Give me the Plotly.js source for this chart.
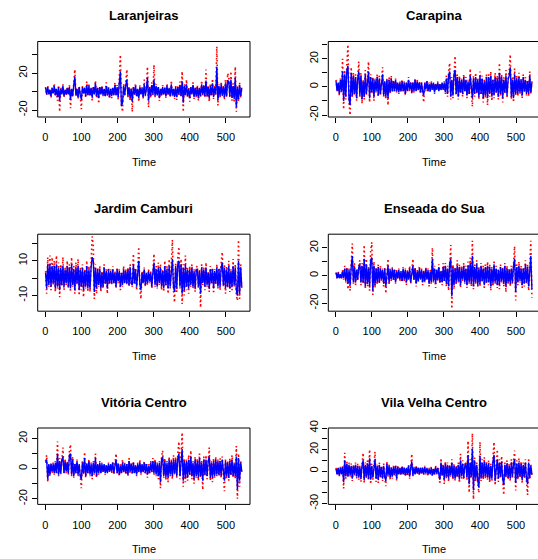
<!DOCTYPE html>
<html><head><meta charset="utf-8">
<script src="https://cdn.plot.ly/plotly-3.0.1.min.js"></script>
<style>html,body{margin:0;padding:0;background:#fff}#chart{width:538px;height:559px}</style>
</head><body><div id="chart"></div>
<script>
// Station names (panel titles)
const stations = ["Laranjeiras", "Carapina", "Jardim Camburi", "Enseada do Sua", "Vitória Centro", "Vila Velha Centro"];
// time index: series sampled every 3rd step starting at t=1
const timeStart = 1, timeStep = 3;
const xTickVals = [0, 100, 200, 300, 400, 500];

const obsLaranjeiras = [
 5,-4,6,-3,2,-7,4,-2,9,-5,3,-10,7,-22,4,-3,8,-6,2,-4,
 5,-4,7,-18,3,-6,9,24,-5,3,-8,6,-3,-19,6,-2,4,-7,11,-5,
 9,-5,4,-10,6,-3,12,-7,4,-13,6,-3,7,-5,3,-6,10,-4,5,-8,
 3,-7,5,-4,10,-5,7,-9,14,40,-14,-22,8,-5,11,24,-6,5,-10,4,
 -22,6,-4,9,-6,3,-11,7,-3,5,-8,13,-5,4,27,-17,6,-7,10,-4,
 29,-6,8,-4,6,-10,3,-5,7,-3,5,-7,9,-3,4,-6,12,-5,3,-8,
 6,-9,7,-4,11,-6,22,-22,8,-5,13,-7,4,-11,6,-3,10,-8,5,-6,
 7,-10,5,-6,12,-4,8,-7,24,-6,6,-11,9,-5,14,-8,6,-3,49,-15,
 8,-6,11,-5,7,-9,13,-6,20,16,-7,22,-10,9,-12,27,-22,6,-11,10,
 -7,5];
const fitLaranjeiras = [
 4,-3,5,-3,2,-5,4,-2,6,-4,3,-6,5,-10,3,-3,6,-5,2,-3,
 4,-3,5,-9,3,-5,7,16,-4,3,-6,5,-3,-9,5,-2,4,-5,7,-4,
 6,-4,4,-6,5,-3,9,-5,4,-7,5,-3,5,-4,3,-5,6,-4,4,-6,
 3,-5,4,-4,7,-4,5,-6,9,22,-16,-12,6,-4,7,13,-5,4,-7,3,
 -11,5,-3,6,-5,3,-7,5,-3,4,-6,8,-4,3,15,-10,5,-5,7,-3,
 13,-5,6,-4,5,-7,3,-4,5,-3,4,-5,6,-3,4,-5,8,-4,3,-6,
 5,-6,5,-3,7,-5,11,-12,6,-4,8,-5,3,-7,5,-3,7,-6,4,-5,
 5,-7,4,-5,8,-3,6,-5,12,-5,5,-7,6,-4,9,-6,5,-3,27,-9,
 6,-5,8,-4,5,-6,9,-5,12,11,-5,13,-7,6,-8,15,-17,5,-8,7,
 -5,4];

const obsCarapina = [
 5,-3,3,-6,6,-4,20,-16,12,-9,17,30,-11,-20,14,-8,10,-6,9,-10,
 7,18,-8,10,-12,5,-9,12,-6,8,18,-11,9,-5,7,-10,6,-4,9,-7,
 8,-6,5,14,-7,4,-9,6,-13,7,-5,8,-4,5,-3,6,-4,3,-5,4,
 -4,5,-3,4,-6,4,-3,7,-3,4,-5,3,-4,6,-3,5,-3,4,-5,3,
 -4,-11,3,-3,5,-3,3,-4,4,-2,3,-5,3,-2,4,-3,2,-3,3,-2,
 4,-5,8,-7,11,17,-9,7,-8,12,22,-6,9,-9,8,-5,6,-7,9,-4,
 7,-8,5,-6,13,-4,-14,8,-7,10,-5,6,-9,11,-6,8,-11,5,-8,9,
 -13,9,-7,11,-10,6,-8,10,-5,8,-9,17,-6,9,-11,7,-5,12,-8,6,
 11,23,-9,7,-11,13,-6,8,-7,10,-5,6,-8,9,-4,7,-6,5,-7,11,
 -5,4];
const fitCarapina = [
 4,-3,3,-5,5,-3,11,-10,9,-7,12,15,-9,-13,10,-6,8,-5,7,-8,
 6,11,-6,8,-9,4,-7,9,-5,6,11,-8,7,-4,6,-7,5,-3,7,-6,
 6,-5,4,9,-6,4,-7,5,-8,5,-4,6,-3,4,-3,5,-3,3,-4,3,
 -3,4,-3,3,-5,3,-3,5,-2,3,-4,3,-3,5,-3,4,-2,3,-4,3,
 -3,-6,3,-2,4,-3,2,-3,3,-2,3,-4,2,-2,3,-3,2,-2,3,-2,
 3,-4,6,-5,8,11,-7,5,-6,9,12,-5,7,-7,6,-4,5,-5,7,-3,
 5,-6,4,-5,8,-3,-8,6,-5,7,-4,5,-7,8,-5,6,-8,4,-6,7,
 -8,7,-5,8,-7,5,-6,7,-4,6,-7,10,-5,7,-8,5,-4,8,-6,5,
 8,14,-7,5,-8,9,-5,6,-5,7,-4,5,-6,7,-3,5,-5,4,-5,8,
 -4,3];

const obsJardimCamburi = [
 4,-9,12,-5,13,-7,12,-4,10,-8,13,-6,9,-11,8,-5,12,-7,6,-4,
 10,-6,8,-8,12,-5,7,-9,9,-4,11,-10,6,-7,8,-11,5,-6,10,-8,
 7,-8,9,24,19,-12,8,-9,6,-5,7,-8,4,-6,8,-4,5,-9,6,-4,
 5,-4,7,-3,4,-6,6,-3,5,-7,3,-5,7,-3,5,-4,6,-5,8,-3,
 -5,14,-4,6,-7,5,18,-6,-12,4,-3,6,-5,3,-4,5,-3,4,-6,3,
 14,-5,7,-6,9,-4,8,-7,5,-8,10,-5,7,-9,11,-6,8,22,-7,-14,
 9,-8,12,18,-6,11,-15,8,-10,13,-7,6,-9,7,-5,8,-6,5,-8,6,
 7,-6,5,-17,8,-4,6,-7,9,-5,4,-8,7,-3,6,-9,5,-4,8,-6,
 6,-7,9,15,-5,8,-9,7,-6,10,-8,5,-7,11,-5,8,-10,-13,22,-12,
 8,-7];
const fitJardimCamburi = [
 3,-6,8,-4,8,-5,7,-3,7,-6,8,-5,6,-7,6,-4,7,-5,5,-3,
 7,-5,6,-6,8,-4,5,-7,6,-3,7,-7,5,-5,6,-7,4,-5,7,-6,
 5,-6,6,12,10,-8,6,-6,5,-4,5,-6,3,-5,6,-3,4,-6,5,-3,
 4,-3,5,-3,3,-5,5,-2,4,-5,3,-4,5,-3,4,-3,5,-4,6,-3,
 -4,8,-3,5,-5,4,10,-4,-7,3,-3,5,-4,3,-3,4,-2,3,-5,3,
 9,-4,5,-5,6,-3,6,-5,4,-6,7,-4,5,-6,7,-5,6,11,-5,-8,
 7,-6,8,10,-5,8,-9,6,-7,8,-5,5,-6,5,-4,6,-5,4,-6,5,
 5,-5,4,-9,6,-3,5,-5,6,-4,3,-6,5,-3,5,-6,4,-3,6,-5,
 5,-5,6,9,-4,6,-6,5,-5,7,-6,4,-5,7,-4,6,-7,-10,10,-9,
 6,-5];

const obsEnseadaDoSua = [
 2,-2,3,-2,1,-3,4,-3,7,-5,6,-10,5,-11,8,23,-6,9,-7,5,
 -4,8,11,-7,9,-6,22,-10,12,-8,7,-11,18,24,-14,10,-9,6,-7,8,
 -6,7,-4,5,-8,6,-13,4,12,-7,5,-4,6,-3,5,-6,4,-3,5,-4,
 3,-5,6,-4,5,-7,4,-3,7,-6,5,12,-4,6,-8,4,-5,7,-3,5,
 -7,4,-5,6,-3,5,-8,4,-6,20,-5,7,-9,5,-4,8,-6,4,-7,9,
 -5,9,-8,7,-11,13,22,-24,8,-10,6,-7,11,-5,8,-9,7,-4,9,-6,
 7,-9,10,-6,13,-8,25,-10,8,-7,11,-9,6,-8,9,-5,7,-10,8,-6,
 10,-7,8,-11,6,-8,11,-6,7,-9,5,-10,8,-5,6,-8,9,-12,7,-6,
 5,-8,7,-6,9,21,-18,8,-7,10,-5,7,-9,6,-8,11,-6,8,-11,9,
 25,-16];
const fitEnseadaDoSua = [
 2,-2,2,-2,1,-2,3,-2,5,-4,5,-6,4,-7,6,14,-5,6,-5,4,
 -3,6,8,-5,7,-5,12,-8,8,-6,5,-8,11,13,-11,7,-7,5,-5,6,
 -5,5,-3,4,-6,5,-8,3,7,-5,4,-3,5,-3,4,-5,3,-2,4,-3,
 3,-4,5,-3,4,-5,3,-3,5,-5,4,7,-3,5,-6,3,-4,5,-3,4,
 -5,3,-4,5,-3,4,-6,3,-5,12,-4,5,-6,4,-3,6,-5,3,-5,6,
 -4,7,-6,5,-8,9,12,-15,6,-7,5,-5,7,-4,6,-7,5,-3,7,-5,
 5,-7,7,-5,9,-6,14,-8,6,-5,8,-7,5,-6,7,-4,5,-7,6,-5,
 7,-5,6,-8,5,-6,8,-5,5,-7,4,-7,6,-4,5,-6,7,-8,5,-5,
 4,-6,5,-5,7,12,-12,6,-5,7,-4,5,-7,5,-6,8,-5,6,-8,7,
 14,-10];

const obsVitoriaCentro = [
 5,9,-9,3,-5,4,-3,4,-4,5,-3,18,-5,7,-4,9,14,-3,6,-3,
 5,-4,12,16,-5,8,-6,4,-3,6,-5,3,-7,-13,5,-4,11,-6,4,-3,
 6,-5,4,-7,5,-4,10,-6,3,-4,5,-3,4,-3,3,-4,3,-3,4,-2,
 3,-3,5,-4,3,10,-3,4,-5,3,-3,6,-3,4,-4,3,-5,7,-3,4,
 -4,5,-3,3,-5,4,-3,6,-4,3,-3,5,-3,4,-6,3,-3,5,-3,7,
 -4,6,-5,4,-7,5,-13,8,12,-6,7,-8,5,-9,8,-5,6,-7,9,-4,
 8,-6,10,18,-7,13,24,-12,7,-9,6,-8,9,-5,12,-7,5,-10,8,-6,
 7,-8,10,-6,5,-14,8,-5,9,-7,6,14,-8,5,-9,7,-6,8,-5,6,
 -5,7,-6,8,-4,-15,6,-7,5,-8,7,-5,9,-6,4,-7,15,-20,10,-12,
 5,-3];
const fitVitoriaCentro = [
 4,6,-7,3,-4,3,-2,3,-3,4,-3,10,-4,5,-3,6,8,-3,5,-2,
 4,-3,9,10,-4,6,-5,3,-3,5,-4,3,-5,-7,4,-3,7,-5,3,-3,
 5,-4,3,-5,4,-3,7,-5,3,-3,4,-3,3,-2,3,-3,2,-3,3,-2,
 3,-2,4,-3,2,6,-3,3,-4,2,-3,4,-2,3,-3,3,-4,5,-2,3,
 -3,4,-3,2,-4,3,-2,4,-3,3,-2,4,-3,3,-4,2,-3,4,-2,5,
 -3,5,-4,3,-5,4,-9,6,8,-5,5,-6,4,-6,6,-4,5,-5,6,-3,
 6,-5,7,10,-5,8,13,-8,5,-6,5,-6,6,-4,8,-5,4,-7,6,-5,
 5,-6,7,-5,4,-8,6,-4,6,-5,5,8,-6,4,-6,5,-5,6,-4,5,
 -4,5,-5,6,-3,-8,5,-5,4,-6,5,-4,6,-5,3,-5,8,-14,7,-8,
 4,-2];

const obsVilaVelhaCentro = [
 3,-4,4,-5,4,-3,5,-16,17,-7,9,-6,8,-5,7,-9,6,-4,8,-7,
 7,-8,5,-10,6,17,-11,8,-7,10,-9,20,-12,7,-8,9,18,-10,6,-11,
 8,-7,5,-9,7,-6,-14,9,-5,6,-8,4,-7,5,-4,6,-9,5,-3,4,
 -4,5,-3,4,-5,3,-4,6,-7,3,16,-5,4,-3,5,-3,4,-4,3,-3,
 4,-3,5,-3,3,-4,3,-3,4,-5,3,-3,5,-3,4,-4,-12,12,-5,7,
 -12,9,-7,8,-10,6,-5,11,-8,7,-9,5,-6,8,-11,16,-7,10,-8,6,
 9,-8,28,-20,11,-7,35,-26,14,-10,8,-12,-20,27,-9,11,-8,13,-7,9,
 -8,10,-11,7,-9,12,27,-13,8,20,-10,11,-7,14,-9,-22,8,-6,10,-8,
 7,-9,11,-7,9,19,-18,10,-8,12,-6,9,-11,8,-7,11,-9,-22,12,-8,
 6,-4];
const fitVilaVelhaCentro = [
 2,-3,3,-4,3,-3,4,-10,10,-5,7,-5,6,-4,5,-7,5,-3,6,-5,
 5,-6,4,-7,5,10,-8,6,-5,7,-7,12,-8,5,-6,7,11,-7,5,-8,
 6,-5,4,-7,5,-5,-9,7,-4,5,-6,3,-5,4,-3,5,-7,4,-3,3,
 -3,4,-3,3,-4,3,-3,5,-5,3,9,-4,3,-3,4,-2,3,-3,3,-2,
 3,-3,4,-2,3,-3,2,-3,3,-4,2,-3,4,-2,3,-3,-8,8,-4,5,
 -8,7,-5,6,-7,5,-4,8,-6,5,-7,4,-5,6,-8,10,-5,7,-6,5,
 7,-6,15,-12,8,-5,21,-18,10,-7,6,-9,-15,14,-7,8,-6,9,-5,7,
 -6,7,-8,5,-7,9,15,-9,6,11,-7,8,-5,9,-7,-13,6,-5,7,-6,
 5,-7,8,-5,7,11,-11,7,-6,8,-5,7,-8,6,-5,8,-7,-12,8,-6,
 5,-3];

const observed = [obsLaranjeiras, obsCarapina, obsJardimCamburi, obsEnseadaDoSua, obsVitoriaCentro, obsVilaVelhaCentro];
const fitted = [fitLaranjeiras, fitCarapina, fitJardimCamburi, fitEnseadaDoSua, fitVitoriaCentro, fitVilaVelhaCentro];

// y tick values / labels (R drops overlapping labels)
const yTickVals = [
 [-20, 0, 20, 40],
 [-20, -10, 0, 10, 20, 30],
 [-10, 0, 10, 20],
 [-20, -10, 0, 10, 20],
 [-20, -10, 0, 10, 20],
 [-30, -20, -10, 0, 10, 20, 30, 40]];
const yTickText = [
 ["-20", "", "20", ""],
 ["-20", "", "0", "", "20", ""],
 ["-10", "", "10", ""],
 ["-20", "", "0", "", "20"],
 ["-20", "", "0", "", "20"],
 ["-30", "", "", "0", "", "20", "", "40"]];
const xLabel = "Time";

// ---------- layout geometry (pixels) ----------
const W = 538, H = 559;
const colX = [[37.7, 250], [328.3, 538]];
const colXRange = [[-20.8, 566.8], [-20.5, 560.9]];
const rowY = [[41.5, 117], [234.2, 311.2], [428, 504.4]];
const yRanges = [[-27.6, 54.5], [-21.4, 32.3], [-19.1, 25.3], [-25.8, 29.8], [-23.7, 27], [-30.8, 40]];
const FONT = "Liberation Sans, Arial, Helvetica, sans-serif";

const traces = [];
const layout = {
  width: W, height: H, margin: {l: 0, r: 0, t: 0, b: 0},
  paper_bgcolor: "#fff", plot_bgcolor: "#fff", showlegend: false,
  font: {family: FONT, color: "#000", size: 11},
  shapes: [], annotations: []
};

stations.forEach((name, k) => {
  const col = k % 2, row = Math.floor(k / 2);
  const sfx = k === 0 ? "" : String(k + 1);
  const time = observed[k].map((_, i) => timeStart + timeStep * i);
  traces.push({x: time, y: observed[k], type: "scatter", mode: "lines",
    line: {color: "#ff0000", width: 1.6, dash: "1.6px,2.8px"},
    xaxis: "x" + sfx, yaxis: "y" + sfx, hoverinfo: "skip"});
  traces.push({x: time, y: fitted[k], type: "scatter", mode: "lines",
    line: {color: "#0000ff", width: 1.4},
    xaxis: "x" + sfx, yaxis: "y" + sfx, hoverinfo: "skip"});
  const [x0, x1] = colX[col], [yt, yb] = rowY[row];
  layout["xaxis" + sfx] = {
    domain: [x0 / W, x1 / W], range: colXRange[col], anchor: "y" + sfx,
    tickvals: xTickVals, ticktext: xTickVals.map(String), ticks: "outside", ticklen: 5,
    tickwidth: 1, tickcolor: "#000", showgrid: false, zeroline: false, showline: false,
    ticklabelstandoff: 5,
    tickfont: {size: 11, family: FONT, color: "#000"}, fixedrange: true
  };
  layout["yaxis" + sfx] = {
    domain: [1 - yb / H, 1 - yt / H], range: yRanges[k], anchor: "x" + sfx,
    tickvals: yTickVals[k], ticktext: yTickText[k], ticks: "outside", ticklen: 5,
    tickwidth: 1, tickcolor: "#000", tickangle: -90, showgrid: false, zeroline: false, showline: false,
    tickfont: {size: 11, family: FONT, color: "#000"}, fixedrange: true
  };
  const xr = "x" + sfx + " domain", yr = "y" + sfx + " domain";
  const ln = {color: "#000", width: 1};
  layout.shapes.push({type: "line", xref: xr, yref: yr, x0: 0, x1: 1, y0: 1, y1: 1, line: ln});
  layout.shapes.push({type: "line", xref: xr, yref: yr, x0: 0, x1: 1, y0: 0, y1: 0, line: ln});
  layout.shapes.push({type: "line", xref: xr, yref: yr, x0: 0, x1: 0, y0: 0, y1: 1, line: ln});
  if (col === 0) layout.shapes.push({type: "line", xref: xr, yref: yr, x0: 1, x1: 1, y0: 0, y1: 1, line: ln});
  const cx = (x0 + (col === 0 ? x1 : x0 + 212.3)) / 2 / W;
  layout.annotations.push({text: "<b>" + name + "</b>", xref: "paper", yref: "paper",
    x: cx, y: 1 - (yt - 25.5) / H, xanchor: "center", yanchor: "middle", showarrow: false,
    font: {size: 13, family: FONT, color: "#000"}});
  layout.annotations.push({text: xLabel, xref: "paper", yref: "paper",
    x: cx, y: 1 - (yb + 45) / H, xanchor: "center", yanchor: "middle", showarrow: false,
    font: {size: 11, family: FONT, color: "#000"}});
});

Plotly.newPlot("chart", traces, layout, {staticPlot: true, displayModeBar: false});
</script>
</body></html>
